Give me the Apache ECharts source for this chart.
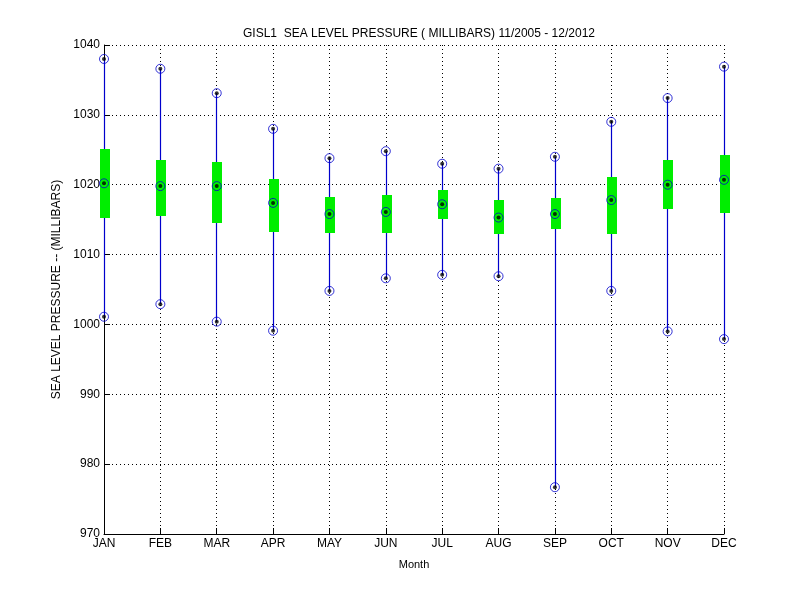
<!DOCTYPE html>
<html>
<head>
<meta charset="utf-8">
<script src="https://cdn.jsdelivr.net/npm/echarts@6/dist/echarts.min.js"></script>
<style>html,body{margin:0;padding:0;background:#fff}#c{width:800px;height:600px}</style>
</head>
<body>
<div id="c"></div>
<script>
var months = ['JAN','FEB','MAR','APR','MAY','JUN','JUL','AUG','SEP','OCT','NOV','DEC'];
var maxVals = [1038.0,1036.6,1033.1,1028.0,1023.8,1024.8,1023.0,1022.3,1024.0,1029.0,1032.4,1036.9];
var q3Vals  = [1025.1,1023.5,1023.3,1020.8,1018.2,1018.5,1019.2,1017.8,1018.1,1021.1,1023.5,1024.3];
var medVals = [1020.2,1019.8,1019.8,1017.4,1015.8,1016.1,1017.2,1015.3,1015.8,1017.8,1020.0,1020.7];
var q1Vals  = [1015.3,1015.5,1014.5,1013.3,1013.1,1013.1,1015.1,1013.0,1013.7,1013.0,1016.5,1015.9];
var minVals = [1001.1,1002.9,1000.4,999.1,1004.8,1006.6,1007.1,1006.9,976.7,1004.8,999.0,997.9];
var yTicks = [970,980,990,1000,1010,1020,1030,1040];

var chart = echarts.init(document.getElementById('c'), null, {renderer:'canvas'});
var font = 'Liberation Sans, Arial, Helvetica, sans-serif';
var boxData = months.map(function(m,i){return [i, minVals[i], q1Vals[i], q3Vals[i], maxVals[i]];});
var markerData = [];
months.forEach(function(m,i){
  markerData.push([i, maxVals[i]]);
  markerData.push([i, medVals[i]]);
  markerData.push([i, minVals[i]]);
});
var dotted = {type:[1,3], color:'#000', width:1};
function snap(x){
  var d = Math.round(x*2);
  return (d % 2 !== 0) ? d/2 : (d+1)/2;
}
chart.setOption({
  animation:false,
  backgroundColor:'#fff',
  title:{text:'GISL1  SEA LEVEL PRESSURE ( MILLIBARS) 11/2005 - 12/2012', left:414, textAlign:'center', top:23,
    textStyle:{fontSize:12, fontWeight:'normal', color:'#000', fontFamily:font}},
  grid:{left:104, right:76, top:45, bottom:66},
  xAxis:{type:'category', data:months, boundaryGap:false,
    name:'Month', nameLocation:'middle', nameGap:25,
    nameTextStyle:{fontSize:11, color:'#000', fontFamily:font},
    axisLine:{lineStyle:{color:'#000', width:1}},
    axisTick:{inside:true, length:6, alignWithLabel:true, lineStyle:{color:'#000'}},
    axisLabel:{fontSize:12, color:'#000', fontFamily:font, margin:4, interval:0},
    splitLine:{show:true, lineStyle:dotted}},
  yAxis:{type:'value', min:970, max:1040, interval:10,
    name:'SEA LEVEL PRESSURE -- (MILLIBARS)', nameLocation:'middle', nameGap:39,
    nameTextStyle:{fontSize:12, color:'#000', fontFamily:font},
    axisLine:{show:true, lineStyle:{color:'#000', width:1}},
    axisTick:{show:true, inside:true, length:6, lineStyle:{color:'#000'}},
    axisLabel:{fontSize:12, color:'#000', fontFamily:font, margin:4,
      formatter:function(v){return yTicks.indexOf(v)>=0 ? String(v) : '';}},
    splitLine:{show:true, lineStyle:dotted}},
  series:[
    {type:'custom', data:boxData, z:2,
      renderItem:function(params, api){
        var x = api.value(0);
        var pMin = api.coord([x, api.value(1)]);
        var pQ1 = api.coord([x, api.value(2)]);
        var pQ3 = api.coord([x, api.value(3)]);
        var pMax = api.coord([x, api.value(4)]);
        var w = 10;
        var cx = snap(pMin[0]);
        return {type:'group', children:[
          {type:'line', shape:{x1:cx, y1:pMin[1], x2:cx, y2:pMax[1]},
            style:{stroke:'#0000cc', lineWidth:1.2}},
          {type:'rect', shape:{x:Math.round(cx-w/2), y:Math.round(pQ3[1]), width:w, height:Math.round(pQ1[1])-Math.round(pQ3[1])},
            style:{fill:'#00ee00', stroke:null}}
        ]};
      }},
    {type:'scatter', data:markerData, z:3, symbol:'circle', symbolSize:9,
      itemStyle:{color:'rgba(0,0,0,0)', borderColor:'#0000cc', borderWidth:1}},
    {type:'scatter', data:markerData, z:4, symbol:'circle', symbolSize:4,
      itemStyle:{color:'#000'}}
  ]
});
</script>
</body>
</html>
